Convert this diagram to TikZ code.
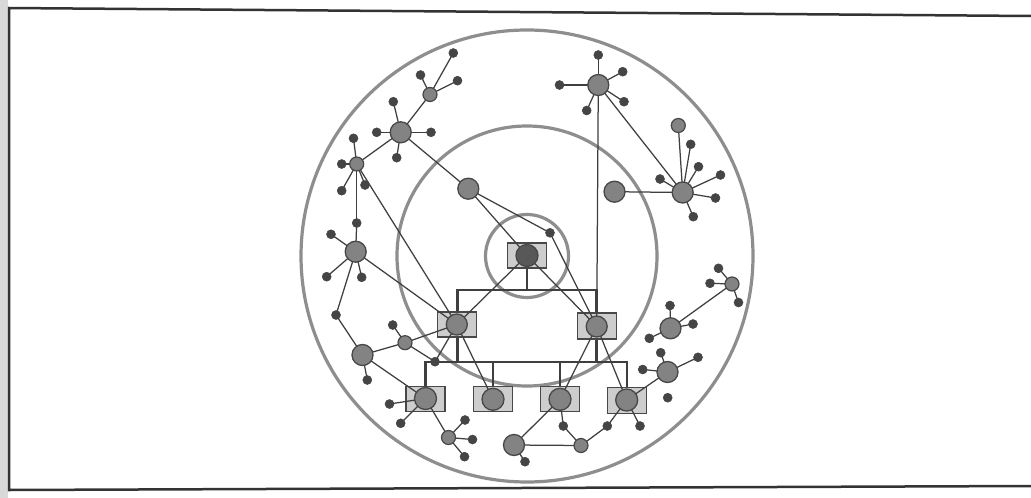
\documentclass[tikz,border=0pt]{standalone}
\pgfdeclarelayer{bg}
\pgfdeclarelayer{mid}
\pgfsetlayers{bg,mid,main}
\definecolor{ringc}{HTML}{8E8E8E}
\definecolor{lnc}{HTML}{3F3F3F}
\definecolor{hubc}{HTML}{838383}
\definecolor{leafc}{HTML}{454545}
\definecolor{boxc}{HTML}{CDCDCD}
\definecolor{dkc}{HTML}{484848}
\definecolor{topc}{HTML}{585858}
\definecolor{framec}{HTML}{333333}
\begin{document}
\begin{tikzpicture}[x=1pt,y=-1pt,
  hub/.style={circle,draw=dkc,fill=hubc,line width=1.3pt,minimum size=21pt,inner sep=0pt},
  shub/.style={circle,draw=dkc,fill=hubc,line width=1.2pt,minimum size=14pt,inner sep=0pt},
  leaf/.style={circle,draw=leafc,fill=leafc,line width=0.5pt,minimum size=9pt,inner sep=0pt},
  centc/.style={circle,draw=dkc,fill=topc,line width=1.3pt,minimum size=22pt,inner sep=0pt},
  orgbox/.style={rectangle,draw=dkc,fill=boxc,line width=1.2pt,minimum width=39pt,minimum height=25pt,inner sep=0pt},
  conn/.style={draw=lnc,line width=1.25pt},
  orgline/.style={draw=lnc,line width=2.5pt},
  ringline/.style={draw=ringc,line width=3.2pt},
  frameline/.style={draw=framec,line width=2.5pt}]
\useasboundingbox (0,0) rectangle (1031,498);
\begin{pgfonlayer}{bg}
\fill[white] (0,0) rectangle (1031,498);
\fill[black!15] (0,0) rectangle (8,498);
\coordinate (ctr) at (527,256);
\draw[ringline] (ctr) circle[radius=226];
\draw[ringline] (ctr) circle[radius=130];
\draw[ringline] (ctr) circle[radius=41.5];
% frame
\coordinate (fTL) at (9,8);
\coordinate (fTR) at (1031,16);
\coordinate (fBL) at (9,490);
\coordinate (fBR) at (1031,486);
\draw[frameline] (fTR) -- (fTL) -- (fBL) -- (fBR);
% org boxes
\node[orgbox] (bx0) at (527,255.5) {};
\node[orgbox] (bxL) at (457.3,324.5) {};
\node[orgbox,minimum height=26pt] (bxR) at (596.7,326) {};
\node[orgbox] (bx1) at (425.5,398.7) {};
\node[orgbox] (bx2) at (493,399) {};
\node[orgbox] (bx3) at (560,399.3) {};
\node[orgbox,minimum height=26pt] (bx4) at (627,400.5) {};
% org lines
\coordinate (h1) at (527,290);
\coordinate (h2L) at (425.5,362);
\coordinate (h2R) at (627,362);
\draw[orgline] (bx0.south) -- (h1);
\draw[orgline] (bxL.north) |- (h1) -| (bxR.north);
\draw[orgline] (bxL.south) -- (bxL.south |- h2L);
\draw[orgline] (bxR.south) -- (bxR.south |- h2L);
\draw[orgline] (bx1.north) -- (h2L) -- (h2R) -- (bx4.north);
\draw[orgline] (bx2.north) -- (bx2.north |- h2L);
\draw[orgline] (bx3.north) -- (bx3.north |- h2L);
\end{pgfonlayer}
% circles inside org boxes
\node[centc] (c0) at (527,255.5) {};
\node[hub] (cL) at (456.8,324.5) {};
\node[hub] (cR) at (596.7,326.5) {};
\node[hub,minimum size=22pt] (cb1) at (425.5,398.5) {};
\node[hub,minimum size=22pt] (cb2) at (493,399.3) {};
\node[hub,minimum size=22pt] (cb3) at (560,399.3) {};
\node[hub,minimum size=22pt] (cb4) at (626.7,400) {};
% hubs
\node[hub] (B) at (400.7,132.3) {};
\node[hub] (D) at (468.3,188.7) {};
\node[hub] (F) at (598.3,85) {};
\node[hub] (G) at (682.7,192.5) {};
\node[hub] (H) at (614.5,191.7) {};
\node[hub] (E) at (355.7,251.7) {};
\node[hub] (I) at (362.5,355) {};
\node[hub] (L) at (514,445) {};
\node[hub] (N) at (670.5,328.3) {};
\node[hub] (P) at (667.5,372) {};
% small hubs
\node[shub] (A) at (430,94.5) {};
\node[shub] (C) at (356.7,164) {};
\node[shub] (J) at (405,342.7) {};
\node[shub] (K) at (448.5,437.5) {};
\node[shub] (M) at (581,445.5) {};
\node[shub] (O) at (732,284) {};
\node[shub] (G1) at (678.3,125.5) {};
% leaves
\node[leaf] (a1) at (453.3,53) {};
\node[leaf] (a2) at (420.5,75) {};
\node[leaf] (a3) at (457.5,80.7) {};
\node[leaf] (bl1) at (393.3,101.7) {};
\node[leaf] (bl2) at (376.7,132.3) {};
\node[leaf] (bl3) at (431,132.3) {};
\node[leaf] (bl4) at (396.7,157.7) {};
\node[leaf] (cc1) at (353.5,138.3) {};
\node[leaf] (cc2) at (341.7,164) {};
\node[leaf] (cc3) at (341.7,190.7) {};
\node[leaf] (cc4) at (365,185) {};
\node[leaf] (cv) at (356.7,223) {};
\node[leaf] (e1) at (331,234.3) {};
\node[leaf] (e2) at (326.7,276.7) {};
\node[leaf] (e3) at (361.7,277.3) {};
\node[leaf] (e4) at (336,315) {};
\node[leaf] (f1) at (598.3,55) {};
\node[leaf] (f2) at (559.5,85) {};
\node[leaf] (f3) at (622.7,71.7) {};
\node[leaf] (f4) at (624,101.7) {};
\node[leaf] (f5) at (586.7,110.5) {};
\node[leaf] (g2) at (690.7,144.3) {};
\node[leaf] (g3) at (698.5,166.7) {};
\node[leaf] (g4) at (660,179) {};
\node[leaf] (g5) at (720.5,175) {};
\node[leaf] (g6) at (715.5,198) {};
\node[leaf] (g7) at (693.3,216.7) {};
\node[leaf] (dd) at (550,232.8) {};
\node[leaf] (i1) at (367.3,380) {};
\node[leaf] (j1) at (392.7,325) {};
\node[leaf] (jd) at (435,361.7) {};
\node[leaf] (k1) at (389.5,404) {};
\node[leaf] (k2) at (400.7,423.3) {};
\node[leaf] (kx1) at (465,420) {};
\node[leaf] (kx2) at (472.5,439.5) {};
\node[leaf] (kx3) at (464.5,456.7) {};
\node[leaf] (l1) at (525,461.7) {};
\node[leaf] (m1) at (563.3,426) {};
\node[leaf] (m2) at (607.3,426) {};
\node[leaf] (q1) at (640,426) {};
\node[leaf] (n1) at (670,305.5) {};
\node[leaf] (n2) at (693,324) {};
\node[leaf] (n3) at (649.3,338.3) {};
\node[leaf] (o1) at (718.5,268.3) {};
\node[leaf] (o2) at (710,283.3) {};
\node[leaf] (o3) at (738.5,302.5) {};
\node[leaf] (p1) at (660.7,352.7) {};
\node[leaf] (p2) at (642.7,369.5) {};
\node[leaf] (p3) at (698,357.3) {};
\node[leaf] (iso) at (667.7,397.7) {};
% connectors
\begin{pgfonlayer}{mid}
\foreach \u/\v in {A/a1,A/a2,A/a3,A/B,B/bl1,B/bl2,B/bl3,B/bl4,B/C,B/D,
  C/cc1,C/cc2,C/cc3,C/cc4,C/cv,cv/E,C/cL,D/c0,D/dd,dd/cR,
  E/e1,E/e2,E/e3,E/e4,e4/I,E/cL,I/i1,I/J,I/cb1,J/j1,J/cL,J/jd,jd/cL,
  cL/cb2,c0/cL,c0/cR,cR/cb3,cR/cb4,
  F/f1,F/f2,F/f3,F/f4,F/f5,F/cR,F/G,
  G/G1,G/g2,G/g3,G/g4,G/g5,G/g6,G/g7,G/H,
  cb1/k1,cb1/k2,cb1/K,K/kx1,K/kx2,K/kx3,
  cb3/L,L/l1,L/M,cb3/m1,m1/M,M/m2,m2/cb4,cb4/q1,cb4/P,
  P/p1,P/p2,P/p3,N/n1,N/n2,N/n3,N/O,O/o1,O/o2,O/o3}
  \draw[conn] (\u.center) -- (\v.center);
\end{pgfonlayer}
\end{tikzpicture}
\end{document}
